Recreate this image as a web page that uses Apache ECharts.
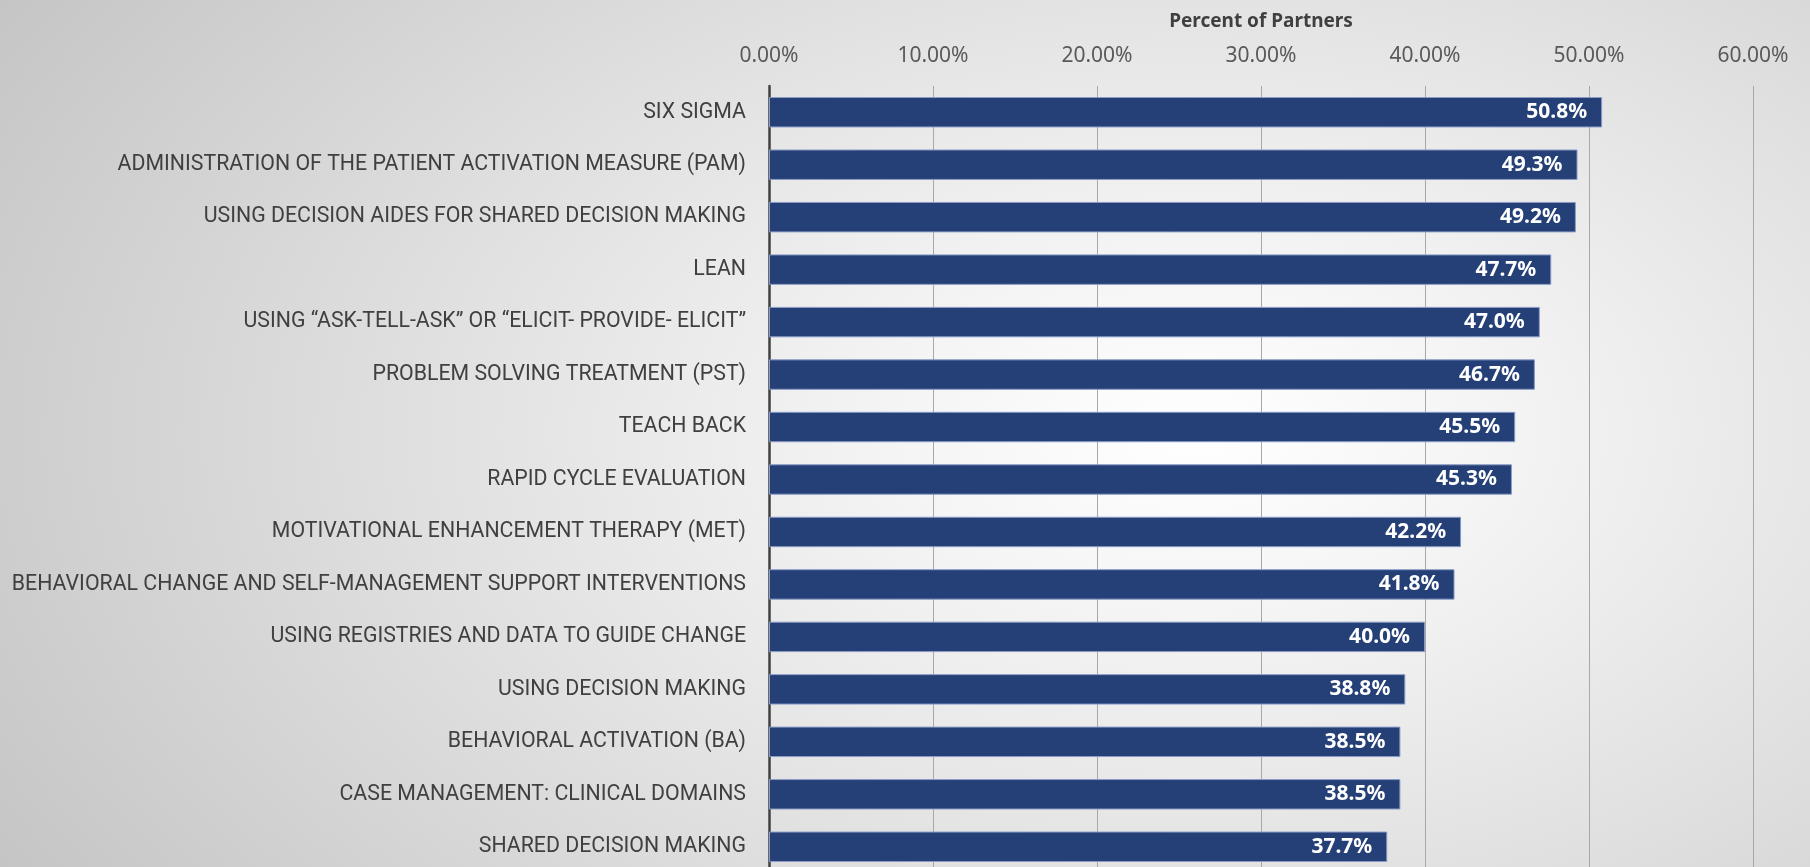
<!DOCTYPE html>
<html>
<head>
<meta charset="utf-8">
<script src="https://cdn.jsdelivr.net/npm/echarts@6/dist/echarts.min.js"></script>
<style>
  html, body { margin: 0; padding: 0; }
  #chart {
    width: 1810px;
    height: 867px;
    background: radial-gradient(ellipse 78% 100% at 66% 50%, #ffffff 0%, #f5f5f5 20%, #e0e0e0 55%, #c4c4c4 100%);
  }
</style>
</head>
<body>
<div id="chart"></div>
<script>
const categories = [
  'SIX SIGMA',
  'ADMINISTRATION OF THE PATIENT ACTIVATION MEASURE (PAM)',
  'USING DECISION AIDES FOR SHARED DECISION MAKING',
  'LEAN',
  'USING \u201CASK-TELL-ASK\u201D OR \u201CELICIT- PROVIDE- ELICIT\u201D',
  'PROBLEM SOLVING TREATMENT (PST)',
  'TEACH BACK',
  'RAPID CYCLE EVALUATION',
  'MOTIVATIONAL ENHANCEMENT THERAPY (MET)',
  'BEHAVIORAL CHANGE AND SELF-MANAGEMENT SUPPORT INTERVENTIONS',
  'USING REGISTRIES AND DATA TO GUIDE CHANGE',
  'USING DECISION MAKING',
  'BEHAVIORAL ACTIVATION (BA)',
  'CASE MANAGEMENT: CLINICAL DOMAINS',
  'SHARED DECISION MAKING'
]
const percentOfPartners = [50.8, 49.3, 49.2, 47.7, 47.0, 46.7, 45.5, 45.3, 42.2, 41.8, 40.0, 38.8, 38.5, 38.5, 37.7]
const axisMax = 60
const axisStep = 10

const chart = echarts.init(document.getElementById('chart'))
chart.setOption({
  backgroundColor: 'transparent',
  animation: false,
  grid: { left: 769, right: 57, top: 86, height: 787, containLabel: false, outerBoundsMode: 'none' },
  xAxis: {
    type: 'value',
    position: 'top',
    min: 0,
    max: axisMax,
    interval: axisStep,
    name: 'Percent of Partners',
    nameLocation: 'middle',
    nameGap: 55,
    nameTextStyle: { fontFamily: 'Noto Sans', fontWeight: 'bold', fontSize: 19, color: '#404040' },
    axisLine: { show: false },
    axisTick: { show: false },
    axisLabel: {
      margin: 19,
      fontFamily: 'Noto Sans',
      fontSize: 21,
      color: '#595959',
      formatter: v => v.toFixed(2) + '%'
    },
    splitLine: { lineStyle: { color: '#a8a8a8', width: 1 } }
  },
  yAxis: {
    type: 'category',
    inverse: true,
    data: categories,
    axisLine: { lineStyle: { color: '#404040', width: 2.5 } },
    axisTick: { show: false },
    axisLabel: {
      margin: 23,
      fontFamily: 'Roboto',
      fontSize: 21.3,
      color: '#404040'
    }
  },
  series: [
    {
      type: 'bar',
      data: percentOfPartners,
      barCategoryGap: '42%',
      itemStyle: { color: '#253f77', borderColor: '#8a9cc6', borderWidth: 1 },
      label: {
        show: true,
        position: 'insideRight',
        distance: 15,
        fontFamily: 'Noto Sans',
        fontWeight: 'bold',
        fontSize: 21,
        color: '#ffffff',
        formatter: p => p.value.toFixed(1) + '%'
      }
    }
  ]
})
</script>
</body>
</html>
